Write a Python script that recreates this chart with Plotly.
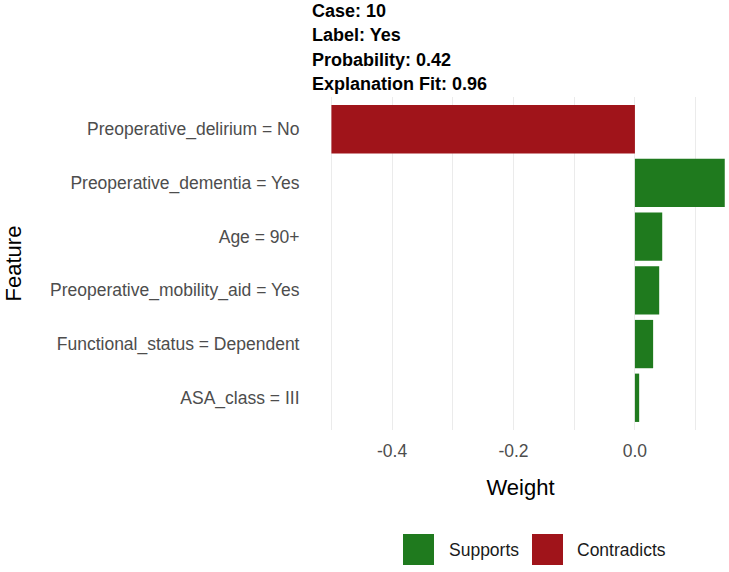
import plotly.graph_objects as go

features = [
    "Preoperative_delirium = No",
    "Preoperative_dementia = Yes",
    "Age = 90+",
    "Preoperative_mobility_aid = Yes",
    "Functional_status = Dependent",
    "ASA_class = III",
]
weights = [-0.500, 0.148, 0.045, 0.040, 0.030, 0.007]
title_lines = ["Case: 10", "Label: Yes", "Probability: 0.42", "Explanation Fit: 0.96"]
legend_labels = ["Supports", "Contradicts"]
colors = {"Supports": "#1f7a1e", "Contradicts": "#a0141a"}

sup_f = [f for f, w in zip(features, weights) if w >= 0]
sup_w = [w for w in weights if w >= 0]
con_f = [f for f, w in zip(features, weights) if w < 0]
con_w = [w for w in weights if w < 0]

FONT = "Liberation Sans, Arial, Helvetica, sans-serif"
W, H = 729, 572
L, R, T, B = 312, 0, 97, 142
PW, PH = W - L - R, H - T - B

def px(x):
    return (x - L) / PW

def py(y):
    return (H - B - y) / PH

fig = go.Figure()
fig.add_trace(go.Bar(y=sup_f, x=sup_w, orientation="h", width=0.9, name="Supports",
                     marker=dict(color=colors["Supports"], line=dict(width=0)), showlegend=False))
fig.add_trace(go.Bar(y=con_f, x=con_w, orientation="h", width=0.9, name="Contradicts",
                     marker=dict(color=colors["Contradicts"], line=dict(width=0)), showlegend=False))

annotations = []
for i, line in enumerate(title_lines):
    annotations.append(dict(text=f"<b>{line}</b>", xref="paper", yref="paper",
                            x=px(310), y=py(11 + i * 24.4), xanchor="left", yanchor="middle",
                            showarrow=False, font=dict(family=FONT, size=18, color="#000000")))

shapes = []
key_x = [403, 532]
text_x = [447, 575]
for lab, kx, tx in zip(legend_labels, key_x, text_x):
    shapes.append(dict(type="rect", xref="paper", yref="paper",
                       x0=px(kx), x1=px(kx + 31), y0=py(534), y1=py(565),
                       fillcolor=colors[lab], line=dict(width=0)))
    annotations.append(dict(text=lab, xref="paper", yref="paper", x=px(tx), y=py(550),
                            xanchor="left", yanchor="middle", showarrow=False,
                            font=dict(family=FONT, size=17.5, color="#1a1a1a")))

fig.update_layout(
    width=W, height=H,
    margin=dict(l=L, r=R, t=T, b=B),
    plot_bgcolor="white", paper_bgcolor="white",
    font=dict(family=FONT),
    barmode="relative",
    bargap=0.1,
    annotations=annotations,
    shapes=shapes,
    xaxis=dict(
        range=[-0.532, 0.155],
        tickvals=[-0.4, -0.2, 0.0], ticktext=["-0.4", "-0.2", "0.0"],
        showgrid=True, gridcolor="#ebebeb", gridwidth=1.2,
        minor=dict(tickvals=[-0.5, -0.3, -0.1, 0.1], showgrid=True, gridcolor="#ebebeb", gridwidth=1.2),
        zeroline=False, showline=False,
        ticks="outside", ticklen=5, tickcolor="rgba(0,0,0,0)",
        tickfont=dict(family=FONT, size=17.5, color="#4d4d4d"),
        title=dict(text="Weight", font=dict(family=FONT, size=22, color="#000000"), standoff=19),
        automargin=False,
    ),
    yaxis=dict(
        categoryorder="array", categoryarray=features,
        range=[5.6, -0.6],
        showgrid=False, zeroline=False, showline=False,
        ticks="outside", ticklen=8, tickcolor="rgba(0,0,0,0)",
        tickfont=dict(family=FONT, size=17.5, color="#4d4d4d"),
        title=dict(text="Feature", font=dict(family=FONT, size=22, color="#000000"), standoff=22),
        automargin=False,
    ),
)

fig.write_html("out.html", config={"displayModeBar": False},
               post_script="document.body.style.margin='0';")
